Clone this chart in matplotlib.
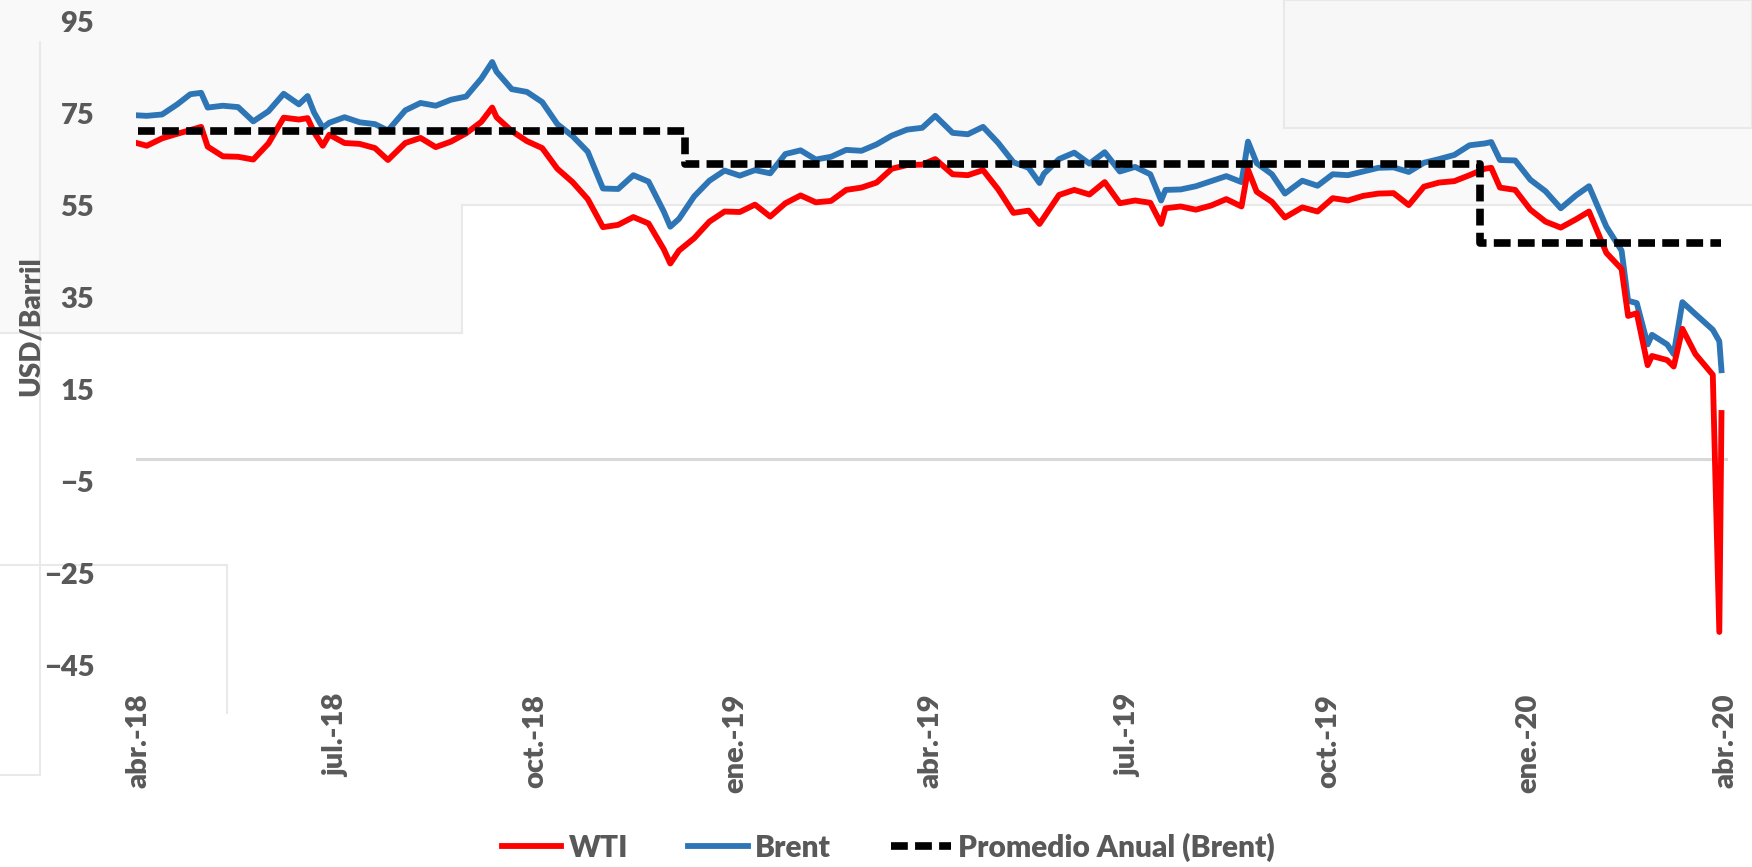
import matplotlib
matplotlib.use("Agg")
import matplotlib.pyplot as plt
from matplotlib.patches import Polygon, Rectangle
from matplotlib.lines import Line2D
import pandas as pd

# precios semanales (y días clave) USD/barril
dates = ["2018-04-23", "2018-04-27", "2018-05-04", "2018-05-11", "2018-05-17", "2018-05-22",
         "2018-05-25", "2018-06-01", "2018-06-08", "2018-06-15", "2018-06-22", "2018-06-29",
         "2018-07-06", "2018-07-10", "2018-07-13", "2018-07-17", "2018-07-20", "2018-07-27",
         "2018-08-03", "2018-08-10", "2018-08-16", "2018-08-24", "2018-08-31", "2018-09-07",
         "2018-09-14", "2018-09-21", "2018-09-28", "2018-10-03", "2018-10-05", "2018-10-12",
         "2018-10-19", "2018-10-26", "2018-11-02", "2018-11-09", "2018-11-16", "2018-11-23",
         "2018-11-30", "2018-12-07", "2018-12-14", "2018-12-21", "2018-12-24", "2018-12-28",
         "2019-01-04", "2019-01-11", "2019-01-18", "2019-01-25", "2019-02-01", "2019-02-08",
         "2019-02-15", "2019-02-22", "2019-03-01", "2019-03-08", "2019-03-15", "2019-03-22",
         "2019-03-29", "2019-04-05", "2019-04-12", "2019-04-19", "2019-04-25", "2019-05-03",
         "2019-05-10", "2019-05-17", "2019-05-24", "2019-05-31", "2019-06-07", "2019-06-12",
         "2019-06-14", "2019-06-21", "2019-06-28", "2019-07-05", "2019-07-12", "2019-07-19",
         "2019-07-26", "2019-08-02", "2019-08-07", "2019-08-09", "2019-08-16", "2019-08-23",
         "2019-08-30", "2019-09-06", "2019-09-13", "2019-09-16", "2019-09-20", "2019-09-27",
         "2019-10-03", "2019-10-11", "2019-10-18", "2019-10-25", "2019-11-01", "2019-11-08",
         "2019-11-15", "2019-11-22", "2019-11-29", "2019-12-06", "2019-12-13", "2019-12-20",
         "2019-12-27", "2020-01-03", "2020-01-06", "2020-01-10", "2020-01-17", "2020-01-24",
         "2020-01-31", "2020-02-07", "2020-02-14", "2020-02-20", "2020-02-28", "2020-03-06",
         "2020-03-09", "2020-03-13", "2020-03-18", "2020-03-20", "2020-03-27", "2020-03-30",
         "2020-04-03", "2020-04-09", "2020-04-17", "2020-04-20", "2020-04-21"]

brent = [74.7, 74.6, 74.9, 77.1, 79.3, 79.6,
         76.4, 76.8, 76.5, 73.4, 75.6, 79.4,
         77.1, 78.9, 75.3, 72.0, 73.1, 74.3,
         73.2, 72.8, 71.4, 75.8, 77.4, 76.8,
         78.1, 78.8, 82.7, 86.3, 84.2, 80.4,
         79.8, 77.6, 72.8, 70.2, 66.8, 58.8,
         58.7, 61.7, 60.3, 53.8, 50.5, 52.2,
         57.1, 60.5, 62.7, 61.6, 62.8, 62.1,
         66.3, 67.1, 65.1, 65.7, 67.2, 67.0,
         68.4, 70.3, 71.6, 72.0, 74.6, 70.9,
         70.6, 72.2, 68.7, 64.5, 63.3, 60.0,
         62.0, 65.2, 66.6, 64.2, 66.7, 62.5,
         63.5, 61.9, 56.2, 58.5, 58.6, 59.3,
         60.4, 61.5, 60.2, 69.0, 64.3, 61.9,
         57.7, 60.5, 59.4, 61.9, 61.7, 62.5,
         63.3, 63.4, 62.4, 64.4, 65.2, 66.1,
         68.2, 68.6, 68.9, 65.0, 64.9, 60.7,
         58.2, 54.5, 57.3, 59.3, 50.5, 45.3,
         34.4, 33.9, 24.9, 27.0, 24.9, 22.8,
         34.1, 31.5, 28.1, 25.6, 19.3]

wti = [68.6, 68.1, 69.7, 70.7, 71.5, 72.2,
       67.9, 65.8, 65.7, 65.1, 68.6, 74.2,
       73.8, 74.1, 71.0, 68.1, 70.5, 68.7,
       68.5, 67.6, 65.0, 68.7, 69.8, 67.8,
       69.0, 70.8, 73.3, 76.4, 74.3, 71.3,
       69.1, 67.6, 63.1, 60.2, 56.5, 50.4,
       50.9, 52.6, 51.2, 45.6, 42.5, 45.3,
       48.0, 51.6, 53.8, 53.7, 55.3, 52.7,
       55.6, 57.3, 55.8, 56.1, 58.5, 59.0,
       60.1, 63.1, 63.9, 64.0, 65.2, 61.9,
       61.7, 62.8, 58.6, 53.5, 54.0, 51.1,
       52.5, 57.4, 58.5, 57.5, 60.2, 55.6,
       56.2, 55.7, 51.1, 54.5, 54.9, 54.2,
       55.1, 56.5, 54.9, 62.9, 58.1, 55.9,
       52.5, 54.7, 53.8, 56.7, 56.2, 57.2,
       57.7, 57.8, 55.2, 59.2, 60.1, 60.4,
       61.7, 63.1, 63.3, 59.0, 58.5, 54.2,
       51.6, 50.3, 52.1, 53.8, 44.8, 41.3,
       31.1, 31.7, 20.4, 22.4, 21.5, 20.1,
       28.3, 22.8, 18.3, -37.6, 10.0]

# promedio anual Brent
avg_dates = ["2018-04-23", "2018-12-31", "2020-01-01", "2020-04-21"]
avg_brent = [71.3, 64.2, 47.0, 47.0]

tick_dates = ["2018-04-23", "2018-07-23", "2018-10-23", "2019-01-23", "2019-04-23",
              "2019-07-23", "2019-10-23", "2020-01-23", "2020-04-23"]
tick_labels = ["abr.-18", "jul.-18", "oct.-18", "ene.-19", "abr.-19",
               "jul.-19", "oct.-19", "ene.-20", "abr.-20"]
y_ticks = [-45, -25, -5, 15, 35, 55, 75, 95]

gray = "#595959"
W, H = 1752, 867
plt.rcParams["font.family"] = ["Lato", "DejaVu Sans"]

fig = plt.figure(figsize=(W / 100, H / 100), dpi=100)


def fpt(x, y):
    return (x / W, 1 - y / H)


# faint background boxes seen behind the chart
bg = "#f9f9f9"
edge = "#e9e9e9"
fig.add_artist(Polygon([fpt(0, 0), fpt(W, 0), fpt(W, 205), fpt(462, 205), fpt(462, 333), fpt(0, 333)],
                       closed=True, facecolor=bg, edgecolor="none", zorder=0))
fig.add_artist(Rectangle(fpt(1284, 128), (W - 1284) / W, 128 / H, facecolor="#f7f7f7",
                         edgecolor=edge, lw=1.5, zorder=0))
for xs, ys in [([462, W], [205, 205]), ([462, 462], [205, 333]), ([0, 462], [333, 333]),
               ([40, 40], [42, 775]), ([0, 40], [775, 775]),
               ([0, 227], [565, 565]), ([227, 227], [565, 713])]:
    fig.add_artist(Line2D([x / W for x in xs], [1 - y / H for y in ys], color=edge, lw=1.5, zorder=0))

ax = fig.add_axes([136 / W, 1 - 666 / H, (1728 - 136) / W, (666 - 22) / H])
ax.set_facecolor("none")

x = pd.to_datetime(dates)
ax.axhline(0, color="#d9d9d9", lw=2.2, zorder=1)
ax.plot(x, wti, color="#ff0000", lw=4.2, label="WTI", zorder=3)
ax.plot(x, brent, color="#2e75b6", lw=4.2, label="Brent", zorder=2)
ax.plot(pd.to_datetime(avg_dates), avg_brent, color="black", lw=5.5, drawstyle="steps-post",
        dashes=(2.2, 0.95), label="Promedio Anual (Brent)", zorder=4)

ax.set_ylim(-45, 95)
ax.set_yticks(y_ticks)
ax.set_xlim(pd.Timestamp("2018-04-22"), pd.Timestamp("2020-04-24"))
ax.set_xticks(pd.to_datetime(tick_dates))
ax.set_xticklabels(tick_labels, rotation=90)
ax.tick_params(axis="both", length=0, labelsize=21, labelcolor=gray)
ax.tick_params(axis="y", pad=30)
ax.tick_params(axis="x", pad=20)
for lab in ax.get_xticklabels() + ax.get_yticklabels():
    lab.set_fontweight("heavy")
for s in ax.spines.values():
    s.set_visible(False)

fig.text(31 / W, 1 - 326 / H, "USD/Barril", rotation=90, ha="center", va="center",
         fontsize=20, color=gray, fontweight="heavy")

leg = fig.legend(loc="center", bbox_to_anchor=(0.507, 1 - 847 / H), ncol=3, frameon=False,
                 prop={"size": 21.5, "weight": "heavy"}, handlelength=2.0,
                 columnspacing=2.0, handletextpad=0.25)
for t in leg.get_texts():
    t.set_color(gray)

fig.savefig("out.png", dpi=100)
